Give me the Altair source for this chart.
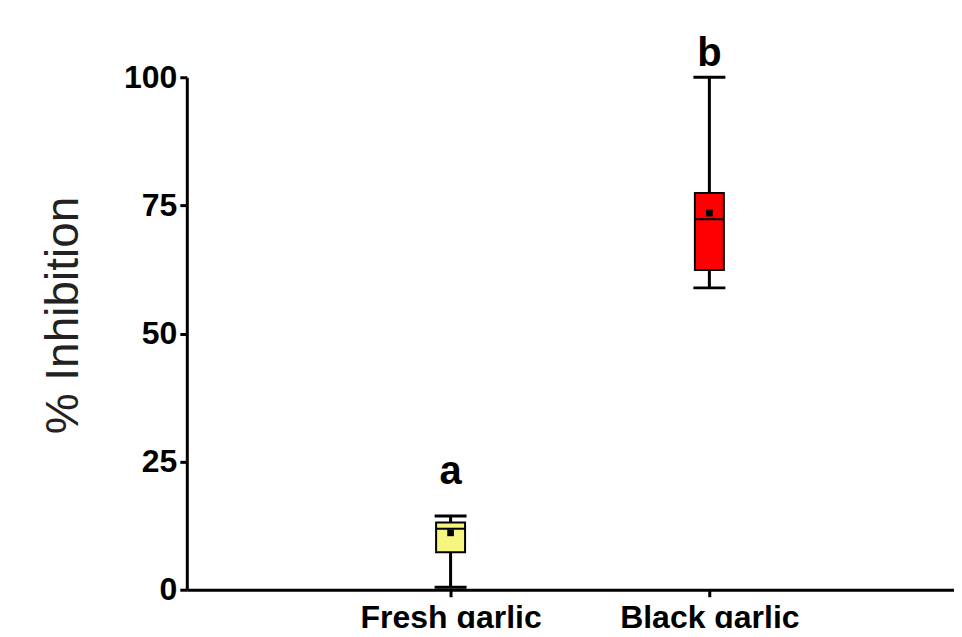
import altair as alt
import pandas as pd

groups = ["Fresh garlic", "Black garlic"]
group_pos = [1, 2]
mins = [0.5, 58.9]
q1 = [7.3, 62.4]
medians = [11.9, 72.3]
q3 = [13.1, 77.4]
maxs = [14.4, 100.0]
means = [11.1, 73.5]
fills = ["#F5F57F", "#FF0000"]
letters = ["a", "b"]
letter_y = [20.7, 102.1]

df = pd.DataFrame(dict(group=groups, pos=group_pos, lo=mins, q1=q1, med=medians,
                       q3=q3, hi=maxs, mean=means, fill=fills, letter=letters, ly=letter_y))

x_axis = alt.Axis(values=[1, 2],
                  labelExpr="datum.value == 1 ? 'Fresh garlic' : 'Black garlic'",
                  title=None, grid=False, domainWidth=3, domainColor="black",
                  tickColor="black", tickWidth=3, tickSize=7,
                  labelFont="Liberation Sans", labelFontWeight="bold", labelFontSize=32,
                  labelColor="black", labelPadding=6, labelFlush=False, labelOverlap=False,
                  labelLimit=0)
x = alt.X("pos:Q", scale=alt.Scale(domain=[0, 2.926], nice=False, zero=False), axis=x_axis)

y_axis = alt.Axis(values=[0, 25, 50, 75, 100], title="% Inhibition", grid=False,
                  domainWidth=3, domainColor="black", tickColor="black", tickWidth=3,
                  tickSize=7, labelFont="Liberation Sans", labelFontWeight="bold",
                  labelFontSize=32, labelColor="black", labelPadding=3,
                  titleFont="Liberation Sans", titleFontWeight="normal", titleFontSize=46,
                  titleColor="#222222", titlePadding=36, titleY=238)
yscale = alt.Scale(domain=[0, 100], nice=False, zero=False)


def Y(field):
    return alt.Y(f"{field}:Q", scale=yscale, axis=y_axis)


base = alt.Chart(df)

whisker = base.mark_rule(color="black", strokeWidth=3).encode(x=x, y=Y("lo"), y2="hi:Q")
cap_lo = base.mark_tick(orient="horizontal", size=32, thickness=3, color="black", opacity=1).encode(x=x, y=Y("lo"))
cap_hi = base.mark_tick(orient="horizontal", size=32, thickness=3, color="black", opacity=1).encode(x=x, y=Y("hi"))
box = base.mark_bar(size=29, stroke="black", strokeWidth=2).encode(
    x=x, y=Y("q1"), y2="q3:Q", fill=alt.Fill("fill:N", scale=None))
median = base.mark_tick(orient="horizontal", size=29, thickness=2, color="black", opacity=1).encode(x=x, y=Y("med"))
mean = base.mark_square(size=45, color="black", opacity=1).encode(x=x, y=Y("mean"))
text = base.mark_text(font="Liberation Sans", fontWeight="bold", fontSize=40,
                      baseline="alphabetic", align="center", color="black").encode(
    x=x, y=Y("ly"), text="letter:N")

chart = alt.layer(whisker, cap_lo, cap_hi, box, median, mean, text).properties(
    width=768, height=513,
    autosize=alt.AutoSizeParams(type="none"),
    padding={"left": 179, "top": 69, "right": 0, "bottom": 38},
).configure_view(stroke=None)

chart.save("out.html", embed_options={"renderer": "svg", "actions": False})
